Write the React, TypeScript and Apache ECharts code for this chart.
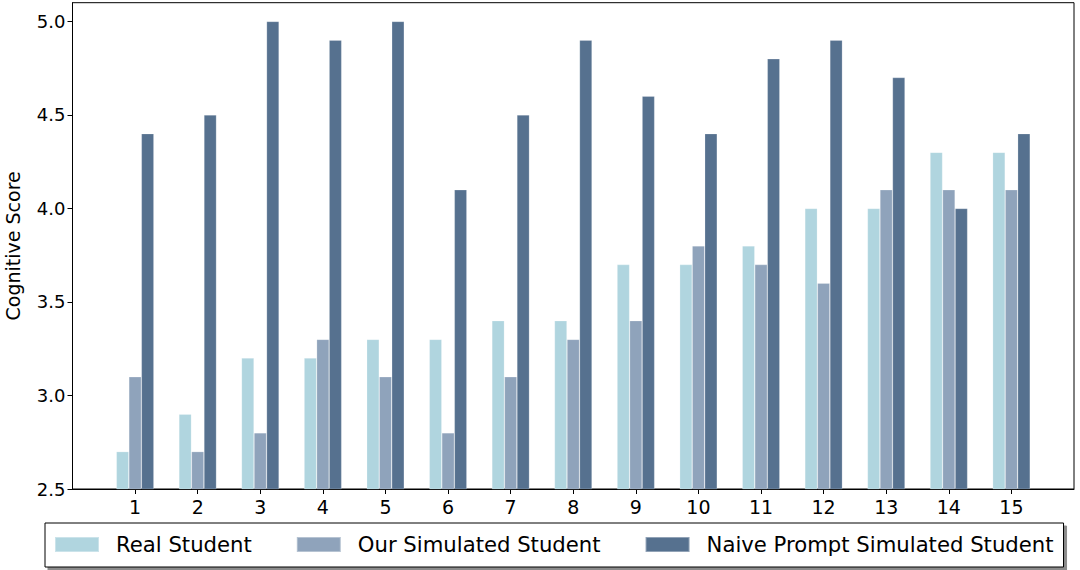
import React, { useEffect, useRef } from "react";
import * as echarts from "echarts";

const categories = ["1", "2", "3", "4", "5", "6", "7", "8", "9", "10", "11", "12", "13", "14", "15"];
const realStudent = [2.7, 2.9, 3.2, 3.2, 3.3, 3.3, 3.4, 3.4, 3.7, 3.7, 3.8, 4.0, 4.0, 4.3, 4.3];
const ourSimulated = [3.1, 2.7, 2.8, 3.3, 3.1, 2.8, 3.1, 3.3, 3.4, 3.8, 3.7, 3.6, 4.1, 4.1, 4.1];
const naivePrompt = [4.4, 4.5, 5.0, 4.9, 5.0, 4.1, 4.5, 4.9, 4.6, 4.4, 4.8, 4.9, 4.7, 4.0, 4.4];
const yTicks = [2.5, 3.0, 3.5, 4.0, 4.5, 5.0];
const seriesNames = ["Real Student", "Our Simulated Student", "Naive Prompt Simulated Student"];
const colors = ["#b0d5df", "#8fa3bb", "#56718f"];

const FONT = "DejaVu Sans";

export default function App() {
  const ref = useRef<HTMLDivElement>(null);
  useEffect(() => {
    document.body.style.margin = "0";
    if (!ref.current) return;
    const chart = echarts.init(ref.current, null, { renderer: "svg" });
    const values = [realStudent, ourSimulated, naivePrompt];
    // padded axis: an empty slot before the first and after the last category
    const axisData = ["", ...categories, " "];
    const lastIdx = axisData.length - 1;
    const showIdx = (i: number) => i > 0 && i < lastIdx;
    chart.setOption({
      animation: false,
      color: colors,
      grid: {
        left: 72.5,
        right: 6,
        top: 2.7,
        bottom: 81,
        outerBoundsMode: "none",
        containLabel: false,
        show: true,
        borderColor: "#000",
        borderWidth: 1,
        backgroundColor: "transparent",
      },
      xAxis: {
        type: "category",
        data: axisData,
        boundaryGap: false,
        splitLine: { show: false },
        axisLine: { show: true, lineStyle: { color: "#000", width: 1 } },
        axisTick: { show: true, length: 5, lineStyle: { color: "#000" }, interval: (i: number) => showIdx(i) },
        axisLabel: {
          interval: (i: number) => showIdx(i),
          color: "#000",
          fontSize: 19,
          fontFamily: FONT,
          margin: 8,
        },
      },
      yAxis: {
        type: "value",
        min: 2.5,
        max: 5.1,
        interval: 0.5,
        name: "Cognitive Score",
        nameLocation: "middle",
        nameRotate: 90,
        nameGap: 50,
        nameTextStyle: { fontSize: 19, fontFamily: FONT, color: "#000" },
        splitLine: { show: false },
        axisLine: { show: true, lineStyle: { color: "#000", width: 1 } },
        axisTick: { show: true, length: 5, lineStyle: { color: "#000" }, customValues: yTicks },
        axisLabel: {
          customValues: yTicks,
          formatter: (v: number) => v.toFixed(1),
          color: "#000",
          fontSize: 18,
          fontFamily: FONT,
          margin: 7,
        },
      },
      legend: {
        left: 45,
        top: 523,
        orient: "horizontal",
        icon: "rect",
        itemWidth: 44,
        itemHeight: 15,
        itemGap: 44,
        padding: [11, 10, 12, 9],
        borderColor: "#000",
        borderWidth: 1,
        borderRadius: 0,
        backgroundColor: "#fff",
        shadowColor: "rgba(0,0,0,0.45)",
        shadowOffsetX: 3,
        shadowOffsetY: 3,
        shadowBlur: 0,
        textStyle: {
          fontSize: 21.2,
          fontFamily: FONT,
          color: "#000",
          lineHeight: 15,
          padding: [0, 0, 0, 12],
        },
        data: seriesNames,
      },
      series: seriesNames.map((name, si) => ({
        name,
        type: "bar",
        barWidth: "20%",
        barGap: "0%",
        itemStyle: { color: colors[si], borderColor: "rgba(255,255,255,0.35)", borderWidth: 0.6 },
        data: categories.map((c, i) => [i + 1, values[si][i]]),
      })),
    });
    return () => chart.dispose();
  }, []);
  return (
    <div
      ref={ref}
      style={{ position: "fixed", left: 0, top: 0, width: 1080, height: 570, background: "#fff" }}
    />
  );
}
